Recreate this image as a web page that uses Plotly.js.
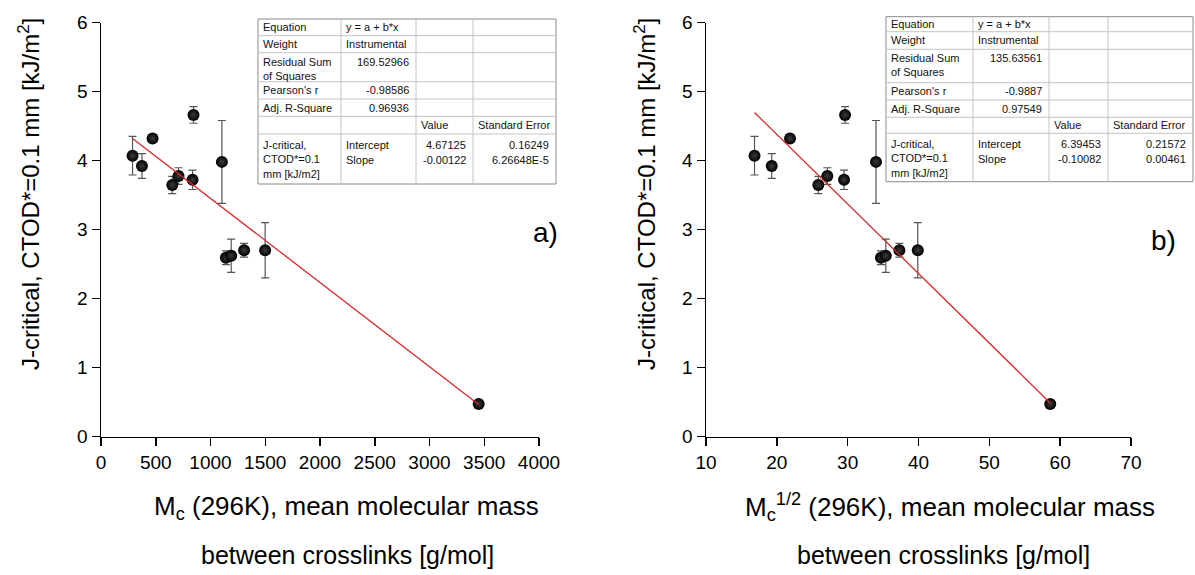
<!DOCTYPE html>
<html>
<head>
<meta charset="utf-8">
<script src="https://cdn.plot.ly/plotly-3.0.1.min.js"></script>
<style>html,body{margin:0;padding:0;background:#fff;}#chart{width:1195px;height:575px;}</style>
</head>
<body>
<div id="chart"></div>
<script>
// ---------------- DATA ----------------
// J-critical (CTOD*=0.1 mm) values and their error bars, shared by both panels
const jCritical = [4.07, 3.92, 4.32, 4.66, 3.98, 3.645, 3.775, 3.72, 2.59, 2.62, 2.70, 2.70, 0.47];
const jError    = [0.28, 0.18, 0.04, 0.12, 0.60, 0.125, 0.12, 0.14, 0.10, 0.24, 0.10, 0.40, 0.03];
// panel a) x: Mc (g/mol)
const mcA = [288, 374, 471, 845, 1104, 651, 708, 836, 1141, 1189, 1307, 1499, 3449];
// panel b) x: Mc^1/2
const mcSqrtB = [16.85, 19.28, 21.86, 29.63, 34.0, 25.86, 27.13, 29.49, 34.7, 35.38, 37.3, 39.9, 58.6];

// fit parameters (from the tables)
const interceptA = 4.67125, slopeA = -0.00122;
const interceptB = 6.39453, slopeB = -0.10082;

// table texts
const statLabels = ["Equation", "Weight", "Residual Sum<br>of Squares", "Pearson's r", "Adj. R-Square"];
const statsA = ["y = a + b*x", "Instrumental", "169.52966", "-0.98586", "0.96936"];
const statsB = ["y = a + b*x", "Instrumental", "135.63561", "-0.9887", "0.97549"];
const paramHeaders = ["Value", "Standard Error"];
const paramNames = ["Intercept", "Slope"];
const paramRowLabel = "J-critical,<br>CTOD*=0.1<br>mm [kJ/m2]";
const valuesA = ["4.67125", "-0.00122"];
const errorsA = ["0.16249", "6.26648E-5"];
const valuesB = ["6.39453", "-0.10082"];
const errorsB = ["0.21572", "0.00461"];

const xTicksA = [0, 500, 1000, 1500, 2000, 2500, 3000, 3500, 4000];
const xTicksB = [10, 20, 30, 40, 50, 60, 70];
const yTicks = [0, 1, 2, 3, 4, 5, 6];

// ---------------- LAYOUT HELPERS ----------------
const W = 1195, H = 575;
const X = p => p / W;
const Y = p => 1 - p / H;
const FONT = "Liberation Sans, Arial, Helvetica, sans-serif";

function fitLine(xs, a, b, xa, ya) {
  const lo = Math.min(...xs), hi = Math.max(...xs);
  return {x: [lo, hi], y: [a + b * lo, a + b * hi], mode: 'lines', type: 'scatter',
    line: {color: '#d42a2a', width: 1.3}, xaxis: xa, yaxis: ya, hoverinfo: 'skip'};
}
function points(xs, xa, ya) {
  return {x: xs, y: jCritical, mode: 'markers', type: 'scatter', xaxis: xa, yaxis: ya,
    error_y: {type: 'data', array: jError, visible: true, color: '#555', thickness: 1.2, width: 4},
    marker: {size: 12, color: '#000', line: {width: 0}, gradient: {type: 'radial', color: '#3c3c3c'}},
    cliponaxis: false};
}

const shapes = [];
const annotations = [];
function ann(text, x, y, xanchor, yanchor, size, extra) {
  annotations.push(Object.assign({text: text, x: X(x), y: Y(y), xref: 'paper', yref: 'paper',
    xanchor: xanchor, yanchor: yanchor, showarrow: false,
    font: {family: FONT, size: size, color: '#111'}}, extra || {}));
}
function line(x0, y0, x1, y1, color) {
  shapes.push({type: 'line', xref: 'paper', yref: 'paper', x0: X(x0), y0: Y(y0), x1: X(x1), y1: Y(y1),
    line: {color: color, width: 1}, layer: 'above'});
}
function table(cx, ry, stats, vals, errs) {
  shapes.push({type: 'rect', xref: 'paper', yref: 'paper', x0: X(cx[0]), x1: X(cx[4]), y0: Y(ry[0]), y1: Y(ry[7]),
    fillcolor: '#fff', line: {color: '#8a8a8a', width: 1}, layer: 'above'});
  for (let i = 1; i < 7; i++) line(cx[0], ry[i], cx[4], ry[i], '#c4c4c4');
  for (let j = 1; j < 4; j++) line(cx[j], ry[0], cx[j], ry[7], '#c4c4c4');
  const fs = 11;
  for (let i = 0; i < 5; i++) {
    const multi = statLabels[i].indexOf('<br>') >= 0;
    const yy = multi ? ry[i] + 1 : (ry[i] + ry[i + 1]) / 2;
    const ya = multi ? 'top' : 'middle';
    ann(statLabels[i], cx[0] + 3, yy, 'left', ya, fs, {align: 'left'});
    if (i < 2) ann(stats[i], cx[1] + 3, (ry[i] + ry[i + 1]) / 2, 'left', 'middle', fs);
    else ann(stats[i], cx[2] - 5, yy, 'right', ya, fs);
  }
  ann(paramHeaders[0], cx[2] + 3, (ry[5] + ry[6]) / 2, 'left', 'middle', fs);
  ann(paramHeaders[1], cx[3] + 3, (ry[5] + ry[6]) / 2, 'left', 'middle', fs);
  ann(paramRowLabel, cx[0] + 3, ry[6] + 3, 'left', 'top', fs, {align: 'left'});
  for (let k = 0; k < 2; k++) {
    const yy = ry[6] + 11 + k * 15;
    ann(paramNames[k], cx[1] + 3, yy, 'left', 'middle', fs);
    ann(vals[k], cx[3] - 5, yy, 'right', 'middle', fs);
    ann(errs[k], cx[4] - 5, yy, 'right', 'middle', fs);
  }
}

// tables
table([258, 341, 416, 473, 556], [19, 35.7, 52.7, 81.7, 99, 116.3, 134, 184], statsA, valuesA, errorsA);
table([886, 973, 1049, 1108, 1193], [16.7, 31.7, 49.3, 82.7, 100, 117.3, 133.3, 181.7], statsB, valuesB, errorsB);

// axis titles
const yTitle = "J-critical, CTOD*=0.1 mm [kJ/m<sup>2</sup>]";
const big = s => ({font: {family: FONT, size: s, color: '#000'}});
ann(yTitle, 29, 194, 'center', 'middle', 24, Object.assign({textangle: -90}, big(24)));
ann(yTitle, 645, 194, 'center', 'middle', 24, Object.assign({textangle: -90}, big(24)));
ann("M<sub>c</sub> (296K), mean molecular mass", 346, 507, 'center', 'middle', 26, big(26));
ann("between crosslinks [g/mol]", 347, 555, 'center', 'middle', 25, big(25));
ann("M<sub>c</sub><sup>1/2</sup> (296K), mean molecular mass", 950, 507, 'center', 'middle', 26, big(26));
ann("between crosslinks [g/mol]", 943, 555, 'center', 'middle', 25, big(25));
// panel labels
ann("a)", 545, 233, 'center', 'middle', 28, big(28));
ann("b)", 1163, 240, 'center', 'middle', 28, big(28));

const axisStyle = {showline: true, linecolor: '#000', linewidth: 1.5, ticks: 'outside', ticklen: 8,
  tickwidth: 1.5, tickcolor: '#000', showgrid: false, zeroline: false, fixedrange: true,
  tickfont: {family: FONT, size: 19, color: '#000'}};

const yDom = [Y(436.5), Y(22.5)];
const layout = {
  width: W, height: H, margin: {l: 0, r: 0, t: 0, b: 0}, showlegend: false,
  paper_bgcolor: '#fff', plot_bgcolor: 'rgba(0,0,0,0)',
  xaxis: Object.assign({}, axisStyle, {domain: [X(101), X(539)], range: [0, 4000], tickvals: xTicksA, anchor: 'y'}),
  yaxis: Object.assign({}, axisStyle, {domain: yDom, range: [0, 6], tickvals: yTicks, anchor: 'x'}),
  xaxis2: Object.assign({}, axisStyle, {domain: [X(706), X(1131)], range: [10, 70], tickvals: xTicksB, anchor: 'y2'}),
  yaxis2: Object.assign({}, axisStyle, {domain: yDom, range: [0, 6], tickvals: yTicks, anchor: 'x2'}),
  shapes: shapes, annotations: annotations
};

const data = [
  points(mcA, 'x', 'y'),
  fitLine(mcA, interceptA, slopeA, 'x', 'y'),
  points(mcSqrtB, 'x2', 'y2'),
  fitLine(mcSqrtB, interceptB, slopeB, 'x2', 'y2')
];
Plotly.newPlot('chart', data, layout, {displayModeBar: false, staticPlot: true});
</script>
</body>
</html>
